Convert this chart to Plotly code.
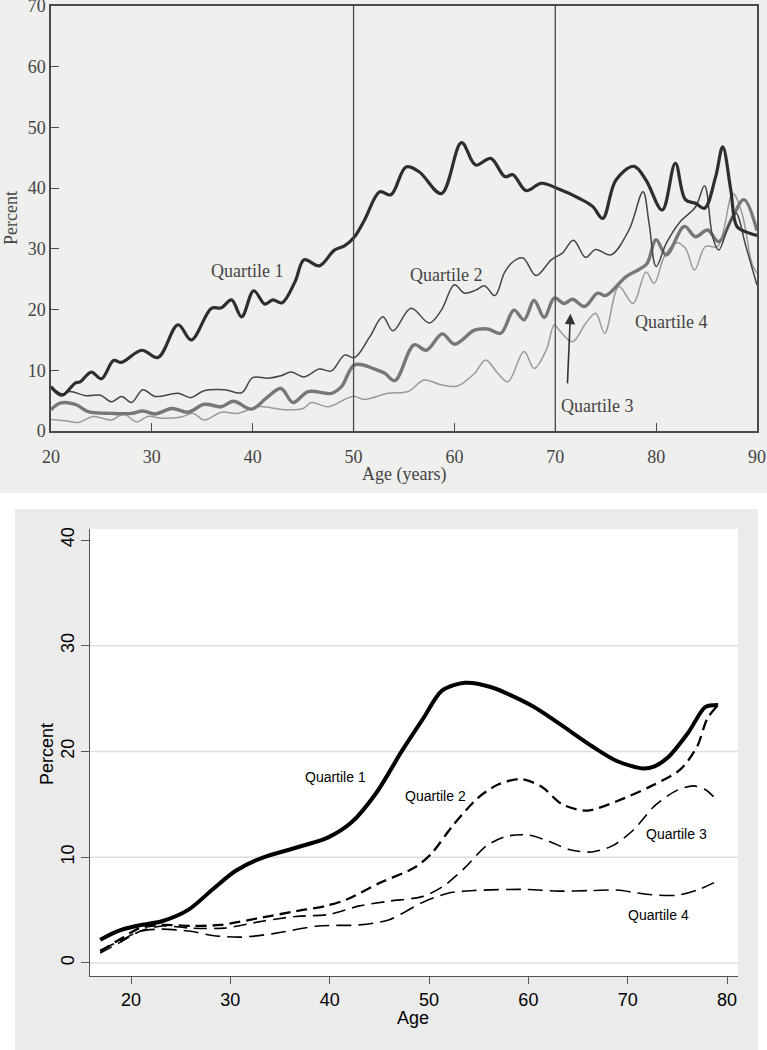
import plotly.graph_objects as go

# ---------------- Top panel data (raw, wiggly series) ----------------
top_q1_age = [20, 21.1, 22.4, 22.9, 24, 25, 26.2, 27, 29, 30.6, 32.6, 33.9, 35.9, 36.9, 37.9, 38.9,
              40.1, 41.2, 42, 42.9, 44.2, 45.1, 46.6, 48.1, 49.1, 50.1, 51.1, 52.6, 53.7, 55.2, 56.5,
              58.7, 60.7, 62.1, 63.6, 65, 65.8, 67.1, 68.6, 70.4, 72.4, 73.7, 74.7, 76, 77.8, 79,
              80.6, 81.9, 82.9, 83.9, 84.8, 85.9, 86.6, 87.4, 88, 88.9, 90]
top_q1_val = [7.3, 5.9, 7.9, 8.1, 9.7, 8.6, 11.6, 11.3, 13.3, 12.1, 17.5, 15, 20.2, 20.3, 21.6, 18.8,
              23.1, 20.9, 21.6, 21.1, 24.6, 28.2, 27.2, 29.8, 30.5, 32, 34.8, 39.4, 38.9, 43.5, 42.7,
              39.1, 47.5, 43.8, 44.9, 41.9, 42.2, 39.6, 40.8, 39.8, 38.3, 37, 35, 41.3, 43.6, 41.3,
              36.4, 44.1, 38.1, 37.5, 36.7, 41.9, 46.8, 39.7, 33.7, 32.8, 32.2]

top_q2_age = [20, 21.1, 21.9, 23.5, 24.9, 26, 27, 28, 29.1, 30.3, 32.6, 33.9, 35.1, 37.2, 38.9, 40,
              41.5, 42.8, 43.8, 45.1, 46.6, 47.8, 49.1, 50.1, 51.6, 52.9, 53.9, 55.7, 57.5, 58.7, 60,
              61, 62.1, 63, 64, 65, 65.9, 66.8, 68.1, 69.6, 70.7, 71.8, 73, 74, 75.5, 77.3, 78.7,
              79.3, 80, 81, 82.4, 83.9, 84.8, 85.6, 86.2, 87.2, 87.9, 88.9, 90]
top_q2_val = [7.3, 6.1, 6.5, 5.8, 5.9, 4.8, 5.7, 4.7, 6.8, 5.7, 6.2, 5.5, 6.6, 6.8, 6.3, 8.8,
              8.7, 9.1, 9.7, 8.9, 10.2, 9.9, 12.5, 12.1, 15.5, 18.8, 16.5, 20.2, 17.8, 19.9, 24.1,
              22.7, 23.2, 23.9, 22.3, 26.2, 28, 28.5, 25.6, 28.2, 29.3, 31.4, 28.6, 29.9, 29, 33.1, 39.4,
              34.2, 27.1, 30.9, 34.5, 36.9, 40.4, 32, 29.8, 33.9, 35.9, 30.4, 24]

top_q3_age = [20, 20.9, 22.4, 23.7, 26, 28, 29.1, 30.3, 32, 33.6, 35.2, 36.9, 38.1, 39.9, 41.4, 42.8,
              44, 45.5, 47.8, 48.8, 50.1, 52.1, 53.1, 54.1, 56, 57.2, 58.8, 60, 62, 63.3, 64.6, 65.9,
              66.9, 67.9, 68.9, 69.9, 70.9, 71.7, 72.9, 74.2, 75, 77, 78.3, 79.1, 80, 81, 82.8, 83.9,
              85.1, 86.2, 87.6, 88.7, 90]
top_q3_val = [3.5, 4.6, 4.4, 3.2, 2.9, 2.9, 3.3, 2.8, 3.7, 3.1, 4.4, 4, 4.9, 3.6, 5.5, 7,
              4.7, 6.5, 6.2, 7.3, 10.9, 10.2, 9.5, 8.3, 14.2, 13.3, 16, 14.3, 16.6, 16.8, 16.1, 19.9,
              18.3, 21.5, 18.7, 21.9, 21, 21.7, 20.5, 22.7, 22.3, 25.4, 26.6, 27.6, 31.5, 29, 33.7, 32,
              33.1, 31.2, 35.3, 38.1, 33]

top_q4_age = [20, 21.4, 22.7, 24.2, 26, 27.2, 28.5, 29.6, 31, 32.9, 34.1, 35.2, 36.9, 38.5, 40.5, 41.9,
              43.2, 45, 45.8, 47.5, 49.9, 51.1, 53.4, 55.4, 57, 58.7, 60.3, 62, 63.1, 64.3, 65.3, 66.9,
              67.9, 69.1, 69.9, 70.4, 71.7, 73, 74, 74.9, 76.3, 77.7, 79, 79.8, 80.8, 82, 82.9, 83.8,
              84.9, 86.1, 87.6, 88.5, 89.5, 90]
top_q4_val = [1.9, 1.7, 1.4, 2.4, 1.8, 2.8, 1.5, 2.4, 2.1, 2.3, 2.9, 1.8, 3.1, 2.9, 4, 3.8,
              3.5, 3.7, 4.7, 4, 5.7, 5.2, 6.2, 6.5, 8.4, 7.6, 7.4, 9.5, 11.7, 9.5, 8.1, 13.1,
              10.3, 13.3, 17.5, 16.6, 14.7, 17.7, 19.4, 16.1, 23.8, 21, 26.2, 24.3, 28.7, 31, 30.1, 26.5,
              30.4, 30.4, 39.1, 35.9, 27.6, 26]

top_xticks = [20, 30, 40, 50, 60, 70, 80, 90]
top_yticks = [0, 10, 20, 30, 40, 50, 60, 70]
top_vlines = [50, 70]

# ---------------- Bottom panel data (smoothed series) ----------------
bot_q1_age = [16.9, 18.6, 20.5, 23.1, 25.8, 28.2, 30.5, 33.2, 36.6, 39.8, 42.2, 44.7, 47.3, 49.4,
              51.3, 53.6, 56.2, 60.4, 63, 66.4, 68.9, 71.5, 72.7, 74, 76.1, 77.8, 79.1]
bot_q1_val = [2.2, 3.0, 3.5, 3.95, 5.05, 6.95, 8.7, 9.95, 10.9, 11.85, 13.3, 16.1, 20.1, 23.1,
              25.75, 26.5, 26.1, 24.3, 22.7, 20.5, 19.1, 18.4, 18.6, 19.4, 21.8, 24.2, 24.4]

bot_q2_age = [16.9, 18.8, 20.9, 23.1, 26, 29, 33.2, 36.6, 39.6, 41.7, 45.1, 48.5, 50.2, 52.4, 54.9,
              57, 59.2, 61.3, 63.4, 65.9, 68.9, 72.3, 75.3, 77, 78, 79.1]
bot_q2_val = [1.1, 2.2, 3.3, 3.6, 3.5, 3.6, 4.3, 4.9, 5.4, 6.0, 7.6, 9.0, 10.3, 13.0, 15.6,
              16.9, 17.4, 16.7, 15.0, 14.4, 15.3, 16.7, 18.3, 20.5, 23.1, 24.4]

bot_q3_age = [16.9, 18.8, 20.9, 23.1, 26, 29.4, 33.2, 36.6, 40, 43, 46, 49.4, 51.5, 53.6, 55.8,
              57.9, 60, 62.1, 64.2, 66.4, 68.5, 70.6, 72.7, 74.9, 76.6, 77.8, 79.1]
bot_q3_val = [0.95, 1.9, 3.0, 3.5, 3.3, 3.3, 3.95, 4.4, 4.6, 5.4, 5.85, 6.3, 7.3, 9.0, 11.1,
              12.0, 12.1, 11.5, 10.7, 10.5, 11.1, 12.6, 14.85, 16.3, 16.75, 16.4, 15.3]

bot_q4_age = [16.9, 18.8, 20.9, 23.1, 26, 28.2, 31.1, 34.5, 38.8, 43, 46, 49.4, 51.9, 54.5, 57.9,
              60, 63, 66.4, 68.9, 71.9, 74.9, 77, 78.7]
bot_q4_val = [1.2, 2.05, 3.0, 3.2, 3.0, 2.6, 2.45, 2.8, 3.5, 3.6, 4.1, 5.75, 6.6, 6.85, 6.95,
              6.95, 6.8, 6.85, 6.9, 6.5, 6.4, 6.9, 7.6]

bot_xticks = [20, 30, 40, 50, 60, 70, 80]
bot_yticks = [0, 10, 20, 30, 40]
bot_grid = [0, 10, 20, 30]

labels = ["Quartile 1", "Quartile 2", "Quartile 3", "Quartile 4"]

W, H = 767, 1050
SERIF = "Liberation Serif, DejaVu Serif, serif"
SANS = "Liberation Sans, Arial, sans-serif"

fig = go.Figure()

# Top traces (draw Q4 first so the darker lines sit on top)
top_series = [(top_q4_age, top_q4_val, "#9a9a9a", 1.5),
              (top_q3_age, top_q3_val, "#777777", 3.4),
              (top_q2_age, top_q2_val, "#454545", 1.5),
              (top_q1_age, top_q1_val, "#2e2e2e", 3.2)]
for ages, vals, col, w in top_series:
    fig.add_trace(go.Scatter(x=ages, y=vals, mode="lines", xaxis="x", yaxis="y",
                             line=dict(color=col, width=w, shape="spline", smoothing=1.0),
                             hoverinfo="skip", showlegend=False))

# Vertical reference lines in the top panel
for v in top_vlines:
    fig.add_trace(go.Scatter(x=[v, v], y=[top_yticks[0], top_yticks[-1]], mode="lines",
                             xaxis="x", yaxis="y", line=dict(color="#4a4a4a", width=1.3),
                             hoverinfo="skip", showlegend=False))

# Bottom traces
bot_series = [
    (bot_q1_age, bot_q1_val, dict(color="black", width=4, dash="solid")),
    (bot_q2_age, bot_q2_val, dict(color="black", width=2.3, dash="11px,6px")),
    (bot_q3_age, bot_q3_val, dict(color="black", width=1.6, dash="13px,7px")),
    (bot_q4_age, bot_q4_val, dict(color="black", width=1.6, dash="15px,7px")),
]
for ages, vals, ln in bot_series:
    ln = dict(ln, shape="spline", smoothing=0.8)
    fig.add_trace(go.Scatter(x=ages, y=vals, mode="lines", xaxis="x2", yaxis="y2",
                             line=ln, hoverinfo="skip", showlegend=False))

X2D = [90 / W, 738 / W]
Y2D = [1 - 976 / H, 1 - 529 / H]
X2R = [15.87, 81.1]

shapes = [
    dict(type="rect", xref="paper", yref="paper", x0=0, x1=1, y0=1 - 493 / H, y1=1,
         fillcolor="#efefed", line=dict(width=0), layer="below"),
    dict(type="rect", xref="paper", yref="paper", x0=15 / W, x1=758 / W, y0=0, y1=1 - 509 / H,
         fillcolor="#ebebeb", line=dict(width=0), layer="below"),
    dict(type="rect", xref="paper", yref="paper", x0=X2D[0], x1=X2D[1], y0=Y2D[0], y1=Y2D[1],
         fillcolor="white", line=dict(width=0), layer="below"),
]
for g in bot_grid:
    shapes.append(dict(type="line", xref="x2", yref="y2", x0=X2R[0], x1=X2R[1], y0=g, y1=g,
                       line=dict(color="#dedede", width=1.3), layer="below"))

annotations = []
# top labels
top_lab_pos = [(39.4, 26.4), (59.2, 25.7), (74.1, 4.1), (81.5, 18.0)]
for txt, (ax_, ay_) in zip(labels, top_lab_pos):
    annotations.append(dict(x=ax_, y=ay_, xref="x", yref="y", text=txt, showarrow=False,
                            xanchor="center", yanchor="middle",
                            font=dict(family=SERIF, size=18, color="#444444")))
# arrow to quartile 3
annotations.append(dict(x=71.5, y=19.3, xref="x", yref="y", ax=71.2, ay=7.6, axref="x", ayref="y",
                        text="", showarrow=True, arrowhead=2, arrowsize=1.3, arrowwidth=1.6,
                        arrowcolor="#333333", standoff=0))
# bottom labels
bot_lab_pos = [(40.6, 17.6), (50.6, 15.8), (74.9, 12.2), (73.1, 4.5)]
for txt, (ax_, ay_) in zip(labels, bot_lab_pos):
    annotations.append(dict(x=ax_, y=ay_, xref="x2", yref="y2", text=txt, showarrow=False,
                            xanchor="center", yanchor="middle",
                            font=dict(family=SANS, size=14, color="black")))
# axis titles
annotations += [
    dict(x=404 / W, y=1 - 475 / H, xref="paper", yref="paper", text="Age (years)", showarrow=False,
         xanchor="center", yanchor="middle", font=dict(family=SERIF, size=18, color="#444444")),
    dict(x=11 / W, y=1 - 218 / H, xref="paper", yref="paper", text="Percent", textangle=-90,
         xanchor="center", yanchor="middle",
         showarrow=False, font=dict(family=SERIF, size=18, color="#444444")),
    dict(x=413 / W, y=1 - 1018 / H, xref="paper", yref="paper", text="Age", showarrow=False,
         xanchor="center", yanchor="middle", font=dict(family=SANS, size=18, color="black")),
    dict(x=47 / W, y=1 - 754 / H, xref="paper", yref="paper", text="Percent", textangle=-90,
         xanchor="center", yanchor="middle",
         showarrow=False, font=dict(family=SANS, size=18, color="black")),
]

fig.update_layout(
    width=W, height=H, margin=dict(l=0, r=0, t=0, b=0, autoexpand=False),
    paper_bgcolor="white", plot_bgcolor="rgba(0,0,0,0)",
    showlegend=False, shapes=shapes, annotations=annotations,
    xaxis=dict(domain=[51 / W, 757 / W], range=[20, 90], tickvals=top_xticks,
               ticks="inside", ticklen=8, tickwidth=1.3, tickcolor="#4a4a4a",
               showline=True, linecolor="#4a4a4a", linewidth=1.5, mirror=True,
               showgrid=False, zeroline=False, automargin=False, ticklabeloverflow="allow",
               ticklabelstandoff=9,
               tickfont=dict(family=SERIF, size=18, color="#444444"), anchor="y"),
    yaxis=dict(domain=[1 - 431 / H, 1 - 6 / H], range=[0, 70], tickvals=top_yticks,
               ticks="inside", ticklen=8, tickwidth=1.3, tickcolor="#4a4a4a",
               showline=True, linecolor="#4a4a4a", linewidth=1.5, mirror=True,
               showgrid=False, zeroline=False, automargin=False, ticklabeloverflow="allow",
               tickfont=dict(family=SERIF, size=18, color="#444444"), anchor="x"),
    xaxis2=dict(domain=X2D, range=X2R, tickvals=bot_xticks,
                ticks="outside", ticklen=7, tickwidth=1, tickcolor="#555555",
                showline=True, linecolor="#555555", linewidth=1.2,
                showgrid=False, zeroline=False, automargin=False, ticklabeloverflow="allow",
                tickfont=dict(family=SANS, size=18, color="black"), anchor="y2"),
    yaxis2=dict(domain=Y2D, range=[-1.23, 41.04], tickvals=bot_yticks,
                ticks="outside", ticklen=8, tickwidth=1, tickcolor="#555555",
                showline=True, linecolor="#555555", linewidth=1.2,
                showgrid=False, zeroline=False, tickangle=-90, automargin=False,
                ticklabeloverflow="allow", ticklabelstandoff=0,
                tickfont=dict(family=SANS, size=18, color="black"), anchor="x2"),
)

fig.write_html("out.html", config={"displayModeBar": False},
               post_script="document.body.style.margin='0px';")
